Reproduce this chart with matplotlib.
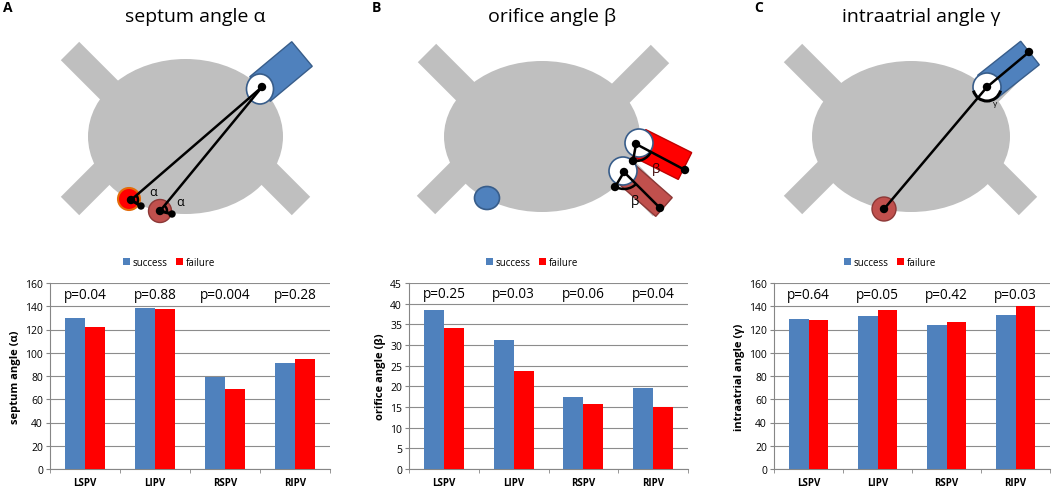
import numpy as np
import matplotlib
matplotlib.use('Agg')
import matplotlib.pyplot as plt
from matplotlib.patches import Polygon, Ellipse, Circle, Arc

plt.rcParams['font.family'] = ['Open Sans', 'DejaVu Sans']

# bar chart data
pv_names = ['LSPV', 'LIPV', 'RSPV', 'RIPV']
septum_success = [129.5, 138.5, 79.3, 91.2]
septum_failure = [121.8, 137.3, 68.8, 94.3]
septum_p = ['p=0.04', 'p=0.88', 'p=0.004', 'p=0.28']
orifice_success = [38.5, 31.3, 17.5, 19.5]
orifice_failure = [34.0, 23.6, 15.7, 15.1]
orifice_p = ['p=0.25', 'p=0.03', 'p=0.06', 'p=0.04']
intra_success = [129.3, 131.3, 123.9, 132.8]
intra_failure = [128.2, 136.5, 126.1, 140.0]
intra_p = ['p=0.64', 'p=0.05', 'p=0.42', 'p=0.03']

W, H = 1052, 489
BLUE = '#4F81BD'
BLUE_EDGE = '#385D8A'
RED = '#FF0000'
DRED = '#C0504D'
DRED_EDGE = '#8C3836'
GRAY = '#BFBFBF'

fig = plt.figure(figsize=(W / 100, H / 100), dpi=100)

# ---------- schematic drawings, pixel coordinates ----------
dr = fig.add_axes([0, 0, 1, 1])
dr.set_xlim(0, W)
dr.set_ylim(H, 0)
dr.axis('off')


def rect(p0, p1, w, **kw):
    p0 = np.array(p0, float)
    p1 = np.array(p1, float)
    d = p1 - p0
    d /= np.hypot(*d)
    n = np.array([-d[1], d[0]]) * w / 2
    dr.add_patch(Polygon([p0 + n, p1 + n, p1 - n, p0 - n], closed=True, **kw))


def atrium(cx, cy, ew, eh, ends):
    for (ex, ey), (dx, dy) in ends:
        rect((ex, ey), (ex + dx * 80, ey + dy * 80), 26, color=GRAY, lw=0, zorder=1)
    dr.add_patch(Ellipse((cx, cy), ew, eh, color=GRAY, lw=0, zorder=1))


def dot(x, y, r=3.5):
    dr.add_patch(Circle((x, y), r, color='black', zorder=6))


def seg(a, b, lw=1.8):
    dr.plot([a[0], b[0]], [a[1], b[1]], color='black', lw=lw, zorder=5,
            solid_capstyle='round')


def ang(c, p):
    return np.degrees(np.arctan2(p[1] - c[1], p[0] - c[0]))


# panel A
atrium(185.5, 137.5, 195, 155,
       [((70, 52), (1, 1)), ((70, 207), (1, -1)),
        ((301, 207), (-1, -1)), ((300, 55), (-1, 1))])
rect((260, 90), (302, 55), 32, facecolor=BLUE, edgecolor=BLUE_EDGE, lw=1, zorder=2)
dr.add_patch(Ellipse((260, 90), 27, 30, facecolor='white', edgecolor=BLUE_EDGE, lw=1.2, zorder=3))
dr.add_patch(Circle((129, 200), 11, facecolor=RED, edgecolor='#E46C0A', lw=1.5, zorder=3))
dr.add_patch(Circle((160, 212), 11.5, facecolor=DRED, edgecolor=DRED_EDGE, lw=1, zorder=3))
top = (262, 88)
for c, s in [((131, 201), (141, 207)), ((160, 212), (172, 215))]:
    seg(top, c)
    seg(c, s, lw=2.2)
    dr.add_patch(Arc(c, 14, 14, theta1=ang(c, top), theta2=ang(c, s),
                     color='black', lw=1.8, zorder=5))
    dot(*c)
    dot(*s, r=3)
dot(*top)
dr.text(153, 193, 'α', fontsize=9, ha='center', va='center', zorder=7)
dr.text(180, 202, 'α', fontsize=9, ha='center', va='center', zorder=7)

# panel B
atrium(542, 137.5, 196, 151,
       [((427, 54), (1, 1)), ((426, 206), (1, -1)),
        ((660, 55), (-1, 1)), ((662, 208), (-1, -1))])
dr.add_patch(Ellipse((487, 199), 25, 23, facecolor=BLUE, edgecolor=BLUE_EDGE, lw=1.2, zorder=3))
rect((623, 172), (664, 208), 25, facecolor=DRED, edgecolor=DRED_EDGE, lw=1, zorder=2)
dr.add_patch(Circle((623, 172), 14, facecolor='white', edgecolor=BLUE_EDGE, lw=1.2, zorder=3))
rect((639, 144), (685, 167), 30, facecolor=RED, edgecolor='#C00000', lw=1, zorder=3.1)
dr.add_patch(Circle((639, 144), 14, facecolor='white', edgecolor=BLUE_EDGE, lw=1.2, zorder=3.2))
for c, lo, end in [((636, 145), (633, 162), (685, 171)),
                   ((624, 173), (615, 188), (660, 209))]:
    seg(c, lo)
    seg(c, end)
    dr.add_patch(Arc(c, 34, 34, theta1=ang(c, end), theta2=ang(c, lo),
                     color='black', lw=1.8, zorder=5))
    dot(*c)
    dot(*lo)
    dot(*end)
dr.text(656, 170, 'β', fontsize=9.5, color='#3a0000', ha='center', va='center', zorder=7)
dr.text(635, 201, 'β', fontsize=9.5, ha='center', va='center', zorder=7)

# panel C
atrium(911, 137.5, 198, 151,
       [((793, 54), (1, 1)), ((793, 206), (1, -1)),
        ((1028, 207), (-1, -1)), ((1027, 56), (-1, 1))])
rect((987, 88), (1030, 54), 30, facecolor=BLUE, edgecolor=BLUE_EDGE, lw=1, zorder=2)
dr.add_patch(Circle((987, 88), 14, facecolor='white', edgecolor=BLUE_EDGE, lw=1.2, zorder=3))
dr.add_patch(Arc((987, 88), 28, 28, theta1=15, theta2=165, color='black', lw=2.2, zorder=4))
dr.add_patch(Circle((884, 210), 12, facecolor=DRED, edgecolor=DRED_EDGE, lw=1, zorder=3))
seg((884, 210), (987, 88))
seg((987, 88), (1029, 53))
dot(884, 210)
dot(987, 88)
dot(1029, 53)
dr.text(995, 105, 'γ', fontsize=6, ha='center', va='center', zorder=7)

# titles and panel letters
for x, t in [(195, 'septum angle α'), (552, 'orifice angle β'), (921, 'intraatrial angle γ')]:
    dr.text(x, 17, t, fontsize=14, ha='center', va='center')
for x, t in [(8, 'A'), (376, 'B'), (759, 'C')]:
    dr.text(x, 8, t, fontsize=10, fontweight='bold', ha='center', va='center')


# ---------- bar charts ----------
def bar_panel(left, right, succ, fail, pvals, ymax, ystep, ylabel, p_y, leg_x):
    ax = fig.add_axes([left / W, (H - 470) / H, (right - left) / W, 186 / H])
    x = np.arange(len(pv_names))
    bw = 0.286
    ax.bar(x - bw / 2, succ, bw, color=BLUE, label='success', zorder=3)
    ax.bar(x + bw / 2, fail, bw, color=RED, label='failure', zorder=3)
    ax.set_xlim(-0.5, 3.5)
    ax.set_ylim(0, ymax)
    ax.set_yticks(np.arange(0, ymax + 0.1, ystep))
    ax.yaxis.grid(True, color='#8c8c8c', lw=0.8)
    ax.set_axisbelow(True)
    ax.spines['top'].set_visible(False)
    ax.spines['right'].set_visible(False)
    ax.spines['left'].set_color('#868686')
    ax.spines['bottom'].set_color('#868686')
    ax.set_xticks(x)
    ax.set_xticklabels(pv_names, fontweight='bold', fontsize=7)
    ax.set_xticks(np.arange(-0.5, 4, 1), minor=True)
    ax.tick_params(axis='x', which='major', length=0, pad=6)
    ax.tick_params(axis='x', which='minor', length=3, color='#868686')
    ax.tick_params(axis='y', length=3, color='#868686', labelsize=7.5, pad=2)
    ax.set_ylabel(ylabel, fontsize=8, fontweight='bold', labelpad=3)
    for i, p in enumerate(pvals):
        ax.text(i, p_y, p, fontsize=9.8, ha='center', va='center')
    ax.legend(loc='center', bbox_to_anchor=(leg_x / W, 1 - 263 / H),
              bbox_transform=fig.transFigure, ncol=2, frameon=False,
              fontsize=7, handlelength=0.7, handleheight=0.7,
              handletextpad=0.3, columnspacing=0.8)
    return ax


bar_panel(50, 330, septum_success, septum_failure, septum_p, 160, 20,
          'septum angle (α)', 150.5, 169)
bar_panel(409, 688, orifice_success, orifice_failure, orifice_p, 45, 5,
          'orifice angle (β)', 42.5, 532)
bar_panel(774, 1050, intra_success, intra_failure, intra_p, 160, 20,
          'intraatrial angle (γ)', 150.5, 890)

fig.savefig('out.png', dpi=100)
